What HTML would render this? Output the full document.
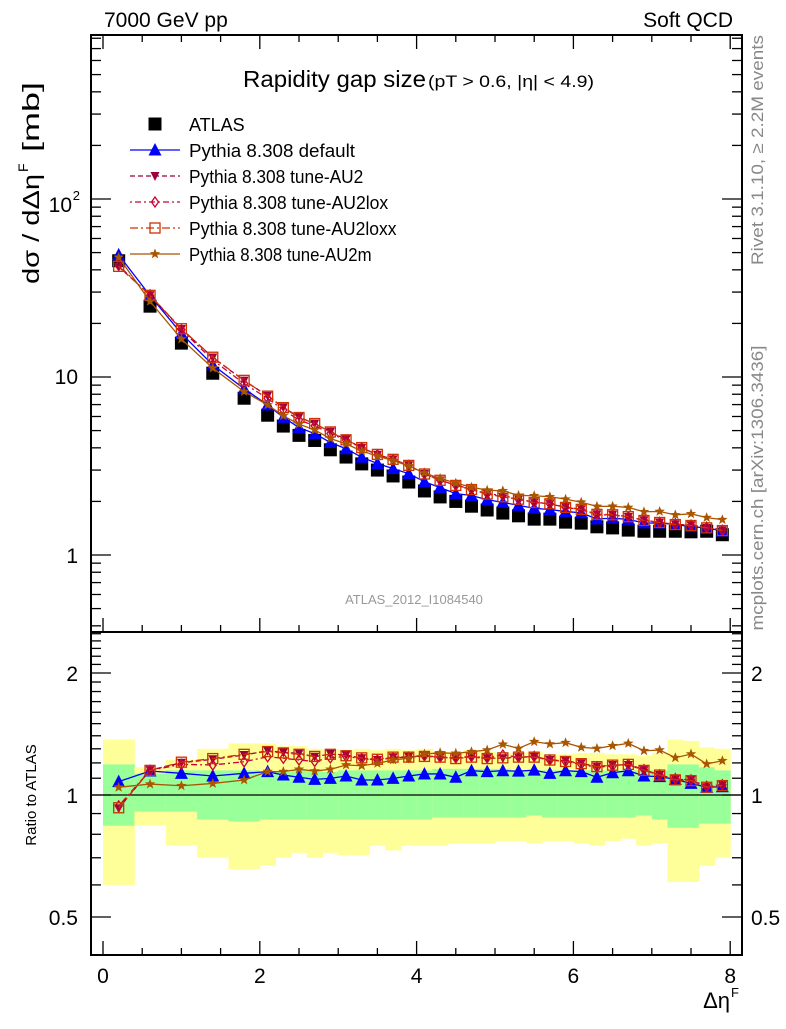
<!DOCTYPE html>
<html><head><meta charset="utf-8"><style>
body{margin:0;background:#fff;width:786px;height:1024px;overflow:hidden;font-family:"Liberation Sans",sans-serif}
svg text{font-family:"Liberation Sans",sans-serif}
</style></head><body>
<svg id="c" width="786" height="1024" xmlns="http://www.w3.org/2000/svg"></svg>
<script>
const binLo=[0,0.4,0.8,1.2,1.6,2.0,2.2,2.4,2.6,2.8,3.0,3.2,3.4,3.6,3.8,4.0,4.2,4.4,4.6,4.8,5.0,5.2,5.4,5.6,5.8,6.0,6.2,6.4,6.6,6.8,7.0,7.2,7.4,7.6,7.8];
const binHi=[0.4,0.8,1.2,1.6,2.0,2.2,2.4,2.6,2.8,3.0,3.2,3.4,3.6,3.8,4.0,4.2,4.4,4.6,4.8,5.0,5.2,5.4,5.6,5.8,6.0,6.2,6.4,6.6,6.8,7.0,7.2,7.4,7.6,7.8,8.0];
const atlas=[45,25,15.5,10.5,7.6,6.1,5.3,4.7,4.4,3.9,3.55,3.25,3.0,2.78,2.57,2.29,2.12,2.0,1.88,1.79,1.72,1.66,1.59,1.59,1.53,1.51,1.44,1.42,1.38,1.36,1.36,1.36,1.35,1.36,1.30];
const rDefault=[1.079,1.146,1.131,1.114,1.131,1.142,1.12,1.106,1.093,1.099,1.114,1.089,1.089,1.099,1.114,1.127,1.127,1.106,1.148,1.142,1.148,1.145,1.152,1.131,1.148,1.142,1.106,1.135,1.148,1.114,1.11,1.093,1.068,1.045,1.048];
const rAU2=[0.927,1.152,1.201,1.225,1.255,1.286,1.274,1.267,1.243,1.262,1.255,1.232,1.22,1.239,1.243,1.248,1.239,1.232,1.243,1.232,1.232,1.239,1.243,1.22,1.215,1.197,1.175,1.186,1.186,1.152,1.12,1.093,1.089,1.045,1.058];
const rLox=[0.94,1.15,1.19,1.186,1.208,1.243,1.232,1.22,1.21,1.235,1.245,1.23,1.22,1.235,1.24,1.25,1.24,1.235,1.245,1.235,1.255,1.24,1.245,1.22,1.21,1.19,1.17,1.18,1.19,1.155,1.12,1.095,1.09,1.05,1.06];
const rLoxx=[0.93,1.15,1.205,1.23,1.26,1.28,1.27,1.26,1.245,1.26,1.25,1.235,1.225,1.24,1.24,1.245,1.24,1.23,1.24,1.23,1.235,1.24,1.24,1.22,1.21,1.195,1.175,1.185,1.19,1.15,1.12,1.09,1.085,1.045,1.055];
const rAU2m=[1.045,1.064,1.054,1.068,1.089,1.142,1.142,1.157,1.146,1.157,1.186,1.181,1.197,1.22,1.232,1.262,1.271,1.267,1.279,1.291,1.334,1.303,1.354,1.336,1.346,1.311,1.303,1.323,1.341,1.286,1.291,1.236,1.262,1.193,1.215];
const gUp=[1.19,1.13,1.15,1.15,1.15,1.14,1.14,1.15,1.15,1.14,1.15,1.15,1.15,1.15,1.15,1.15,1.16,1.16,1.16,1.16,1.16,1.15,1.15,1.15,1.15,1.15,1.15,1.15,1.15,1.15,1.15,1.19,1.19,1.17,1.15];
const gLo=[0.84,0.91,0.91,0.87,0.86,0.87,0.87,0.87,0.87,0.87,0.87,0.87,0.87,0.87,0.87,0.87,0.88,0.88,0.88,0.88,0.88,0.88,0.89,0.88,0.88,0.88,0.88,0.88,0.88,0.89,0.87,0.83,0.83,0.85,0.85];
const yUp=[1.37,1.17,1.22,1.30,1.34,1.34,1.32,1.32,1.30,1.30,1.29,1.30,1.29,1.30,1.29,1.30,1.28,1.28,1.29,1.28,1.27,1.27,1.28,1.26,1.26,1.27,1.27,1.26,1.26,1.25,1.27,1.37,1.36,1.31,1.30];
const yLo=[0.60,0.84,0.75,0.70,0.655,0.67,0.70,0.72,0.70,0.72,0.71,0.71,0.75,0.73,0.75,0.75,0.75,0.76,0.76,0.76,0.77,0.77,0.76,0.77,0.77,0.76,0.75,0.77,0.78,0.75,0.76,0.61,0.61,0.67,0.70];
const xTicks=[0,2,4,6,8];

const S=document.getElementById('c'),NS='http://www.w3.org/2000/svg';
const L=91,R=742,T=35,M=632,B=955;
const X=v=>103+v*78.4;
const YM=v=>555-178*Math.log10(v);
const YR=v=>795-122*Math.log2(v);
function el(t,a,p){const e=document.createElementNS(NS,t);for(const k in a)e.setAttribute(k,a[k]);(p||S).appendChild(e);return e;}
function txt(x,y,s,a,p){const e=el('text',Object.assign({x:x,y:y},a),p);e.textContent=s;return e;}

const bands=el('g',{});
for(let i=0;i<binLo.length;i++){
 const r1=el('rect',{x:X(binLo[i]),y:YR(yUp[i]),width:X(binHi[i])-X(binLo[i])+0.5,height:YR(yLo[i])-YR(yUp[i]),fill:'#ffff99'},bands);
 
 const r2=el('rect',{x:X(binLo[i]),y:YR(gUp[i]),width:X(binHi[i])-X(binLo[i])+0.5,height:YR(gLo[i])-YR(gUp[i]),fill:'#99ff99'},bands);
 
}
el('line',{x1:L,x2:R,y1:YR(1),y2:YR(1),stroke:'#000','stroke-width':1.3});

const f1=el('rect',{x:L,y:T,width:R-L,height:M-T,fill:'none',stroke:'#000','stroke-width':2});

const f2=el('rect',{x:L,y:M,width:R-L,height:B-M,fill:'none',stroke:'#000','stroke-width':2});


for(let v=0;v<=8.01;v+=0.5){
 const maj=Math.abs(v-Math.round(v/2)*2)<1e-6;const len=maj?14:7;
 for(const [yb,dir] of [[B,-1],[M,-1],[T,1]]){
  el('line',{x1:X(v),x2:X(v),y1:yb,y2:yb+dir*len,stroke:'#000','stroke-width':1.3});
 }
}
xTicks.forEach(v=>{const t=txt(X(v),983,String(v),{'font-size':21,'text-anchor':'middle'});});
const xt=txt(730,1008,'Δη',{'font-size':22,'text-anchor':'end'});

txt(731,997,'F',{'font-size':13});

for(let d=-1;d<=2;d++)for(let m=1;m<=9;m++){
 const v=m*Math.pow(10,d);const y=YM(v);if(y<T||y>M)continue;
 const len=m===1?20:10;
 el('line',{x1:L,x2:L+len,y1:y,y2:y,stroke:'#000','stroke-width':1.3});
 el('line',{x1:R,x2:R-len,y1:y,y2:y,stroke:'#000','stroke-width':1.3});
}
let t;
t=txt(78,563,'1',{'font-size':21,'text-anchor':'end'});
t=txt(78,384,'10',{'font-size':21,'text-anchor':'end'});
t=txt(72,212,'10',{'font-size':21,'text-anchor':'end'});
txt(80,200,'2',{'font-size':13,'text-anchor':'end'});

for(let k=4;k<=25;k++){const v=k/10;const y=YR(v);if(y<M||y>B)continue;
 const maj=(k===5||k===10||k===20);const len=maj?20:10;
 el('line',{x1:L,x2:L+len,y1:y,y2:y,stroke:'#000','stroke-width':1.3});
 el('line',{x1:R,x2:R-len,y1:y,y2:y,stroke:'#000','stroke-width':1.3});
}
[[2,'2'],[1,'1'],[0.5,'0.5']].forEach(([v,s])=>{
 t=txt(78,YR(v)+8,s,{'font-size':21,'text-anchor':'end'});
 t=txt(751,YR(v)+8,s,{'font-size':21,'fill':'#000'});
});

function marker(type,x,y,col,p){
 let e;
 if(type==='sq')e=el('rect',{x:x-6.5,y:y-6.5,width:13,height:13,fill:'#000'},p);
 else if(type==='tu')e=el('polygon',{points:`${x},${y-7} ${x-6.5},${y+5.5} ${x+6.5},${y+5.5}`,fill:col},p);
 else if(type==='td')e=el('polygon',{points:`${x},${y+5} ${x-4.5},${y-4} ${x+4.5},${y-4}`,fill:col},p);
 else if(type==='di')e=el('polygon',{points:`${x},${y-5} ${x+3.5},${y} ${x},${y+5} ${x-3.5},${y}`,fill:'none',stroke:col,'stroke-width':1.3},p);
 else if(type==='os')e=el('rect',{x:x-5,y:y-5,width:10,height:10,fill:'none',stroke:col,'stroke-width':1.3},p);
 else if(type==='st'){let pts=[];for(let k=0;k<10;k++){const r=k%2?2.3:5.5,a=-Math.PI/2+k*Math.PI/5;pts.push((x+r*Math.cos(a)).toFixed(1)+','+(y+r*Math.sin(a)).toFixed(1));}
  e=el('polygon',{points:pts.join(' '),fill:col},p);}
 return e;
}
const series=[
 {name:'default',r:rDefault,col:'#0000ff',m:'tu',dash:''},
 {name:'au2',r:rAU2,col:'#99003d',m:'td',dash:'5,3'},
 {name:'au2lox',r:rLox,col:'#cc0033',m:'di',dash:'2,3,6,3'},
 {name:'au2loxx',r:rLoxx,col:'#cc3300',m:'os',dash:'8,3,2,3'},
 {name:'au2m',r:rAU2m,col:'#aa5500',m:'st',dash:''}
];
const cx=binLo.map((v,i)=>(v+binHi[i])/2);
const ag=el('g',{});
atlas.forEach((v,i)=>{const m=marker('sq',X(cx[i]),YM(v),'#000',ag);});
series.forEach(s=>{
 const mc=s.r.map((r,i)=>atlas[i]*r);
 const g=el('g',{});
 const a={fill:'none',stroke:s.col,'stroke-width':1.3};if(s.dash)a['stroke-dasharray']=s.dash;
 el('polyline',Object.assign({points:mc.map((v,i)=>X(cx[i])+','+YM(v)).join(' ')},a),g);
 mc.forEach((v,i)=>{const m=marker(s.m,X(cx[i]),YM(v),s.col,g);});
 const g2=el('g',{});
 el('polyline',Object.assign({points:s.r.map((v,i)=>X(cx[i])+','+YR(v)).join(' ')},a),g2);
 s.r.forEach((v,i)=>{const m=marker(s.m,X(cx[i]),YR(v),s.col,g2);});
});

const lg=el('g',{});
const lrows=[['ATLAS',null],['Pythia 8.308 default',series[0]],['Pythia 8.308 tune-AU2',series[1]],['Pythia 8.308 tune-AU2lox',series[2]],['Pythia 8.308 tune-AU2loxx',series[3]],['Pythia 8.308 tune-AU2m',series[4]]];
const ly=[124,150,176,202,228,254];
lrows.forEach(([lab,s],i)=>{
 const g=el('g',{},lg);
 if(!s){marker('sq',155,ly[i],'#000',g);txt(189,ly[i]+7,lab,{'font-size':18},g);}
 else{const a={x1:130,x2:180,y1:ly[i],y2:ly[i],stroke:s.col,'stroke-width':1.3};if(s.dash)a['stroke-dasharray']=s.dash;el('line',a,g);marker(s.m,155,ly[i],s.col,g);
  txt(189,ly[i]+7,lab,{'font-size':18,'textLength':lab.length*8.3,'lengthAdjust':'spacingAndGlyphs'},g);}
});

t=txt(104,27,'7000 GeV pp',{'font-size':21});
t=txt(733,27,'Soft QCD',{'font-size':21,'text-anchor':'end'});
t=txt(243,87,'Rapidity gap size',{'font-size':23,'textLength':183,'lengthAdjust':'spacingAndGlyphs'});
txt(428,87,'(pT > 0.6, |η| < 4.9)',{'font-size':17,'textLength':166,'lengthAdjust':'spacingAndGlyphs'});
t=txt(414,604,'ATLAS_2012_I1084540',{'font-size':13,'fill':'#999','text-anchor':'middle'});
t=txt(0,0,'dσ / dΔη',{'font-size':23,transform:'translate(39,284) rotate(-90)','textLength':110,'lengthAdjust':'spacingAndGlyphs'});
txt(0,0,'F',{'font-size':14,transform:'translate(28,172) rotate(-90)'});
txt(0,0,'[mb]',{'font-size':23,transform:'translate(39,152) rotate(-90)','textLength':70,'lengthAdjust':'spacingAndGlyphs'});
t=txt(0,0,'Ratio to ATLAS',{'font-size':15,'text-anchor':'middle',transform:'translate(36,795) rotate(-90)'});
t=txt(0,0,'Rivet 3.1.10, ≥ 2.2M events',{'font-size':17,'fill':'#888','text-anchor':'middle',transform:'translate(763,150) rotate(-90)','textLength':230,'lengthAdjust':'spacingAndGlyphs'});
t=txt(0,0,'mcplots.cern.ch [arXiv:1306.3436]',{'font-size':17,'fill':'#888','text-anchor':'middle',transform:'translate(763,488) rotate(-90)','textLength':285,'lengthAdjust':'spacingAndGlyphs'});
</script>
</body></html>
